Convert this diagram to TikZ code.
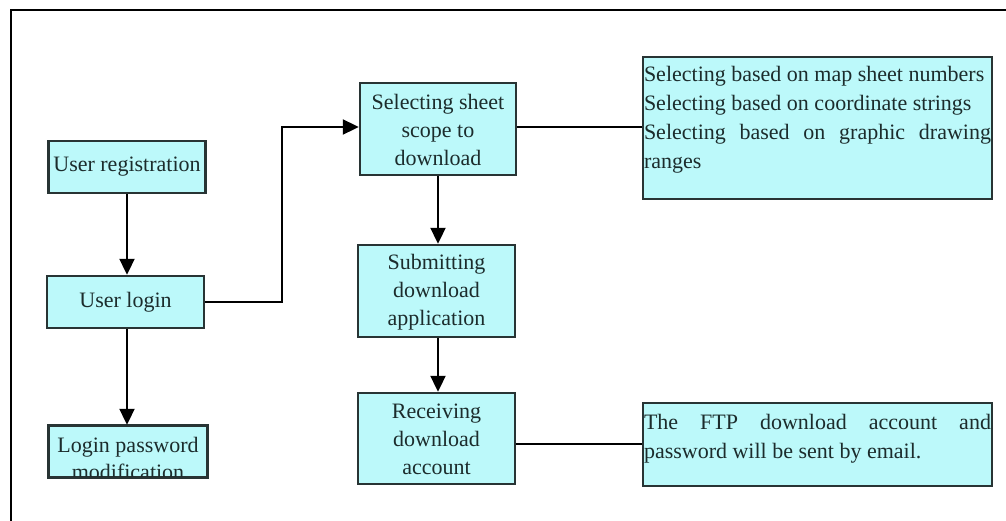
\documentclass[tikz,border=0pt]{standalone}
\usepackage{fontspec}
\setmainfont{Liberation Serif}
\usetikzlibrary{arrows.meta}

% justified notes are set without hyphenation
\hyphenpenalty=10000
\exhyphenpenalty=10000

\definecolor{boxfill}{RGB}{188,249,250}
\definecolor{boxline}{RGB}{40,52,52}
\definecolor{boxtext}{RGB}{28,44,44}

\tikzset{
  x=1pt, y=-1pt,
  box/.style={draw=boxline, line width=2.4pt, fill=boxfill, inner sep=0pt},
  label/.style={text=boxtext, font=\fontsize{22}{28}\selectfont, align=center, inner sep=0pt},
  note/.style={text=boxtext, font=\fontsize{22}{29}\selectfont,
    align=justify, inner sep=0pt, anchor=north west},
  flow/.style={draw=black, line width=2pt, -{Triangle[width=15pt,length=16pt]}},
  link/.style={draw=black, line width=2pt},
}

\begin{document}
\begin{tikzpicture}
\useasboundingbox (0,0) rectangle (1006,520);
% outer frame
\draw[line width=2pt] (11,530) -- (11,10) -- (1020,10);

% left column
\node[box, minimum width=157pt, minimum height=52pt] (ur) at (127,167) {};
\node[label] at (ur) {User registration};
\node[box, minimum width=157pt, minimum height=52pt] (ul) at (125.5,302) {};
\node[label] at (ul) {User login};
\node[box, minimum width=158pt, minimum height=51pt] (lp) at (128,451.5) {};
\begin{scope}
  \clip (lp.south west) rectangle (lp.north east);
  \node[label, font=\fontsize{22}{27}\selectfont, anchor=north] (lpt) at ([yshift=-12pt]lp.north) {Login password\\modification};
\end{scope}
\draw[draw=boxline, line width=2.4pt] (lp.south west) rectangle (lp.north east);

% centre column
\node[box, minimum width=156pt, minimum height=92pt] (ss) at (438,129) {};
\node[label] at ([yshift=-1pt]ss) {Selecting sheet\\scope to\\download};
\node[box, minimum width=157pt, minimum height=92pt] (sd) at (436.5,291) {};
\node[label] at ([yshift=-1pt]sd) {Submitting\\download\\application};
\node[box, minimum width=157pt, minimum height=91pt] (rd) at (436.5,438.5) {};
\node[label] at ([yshift=-1pt]rd) {Receiving\\download\\account};

% right column
\node[box, minimum width=349pt, minimum height=142pt] (r1) at (817.5,128) {};
\node[note, text width=347pt] (r1t) at ([xshift=2pt,yshift=-10pt]r1.north west)
  {Selecting based on map sheet numbers\\Selecting based on coordinate strings\\Selecting based on graphic drawing ranges};
\node[box, minimum width=349pt, minimum height=83pt] (r2) at (817.5,444.5) {};
\node[note, text width=347pt] (r2t) at ([xshift=2pt,yshift=-12pt]r2.north west)
  {The FTP download account and password will be sent by email.};

% connectors
\draw[flow] (ur.south) -- (ur.south |- ul.north);
\draw[flow] (ur.south |- ul.south) -- (ur.south |- lp.north);
\draw[flow] (ul.east) -- ++(77,0) |- ([yshift=2pt]ss.west);
\draw[flow] (ss.south) -- (ss.south |- sd.north);
\draw[flow] (ss.south |- sd.south) -- (ss.south |- rd.north);
\draw[link] ([yshift=2pt]ss.east) -- ([yshift=2pt]ss.east -| r1.west);
\draw[link] ([yshift=-5pt]rd.east) -- ([yshift=-5pt]rd.east -| r2.west);
\end{tikzpicture}
\end{document}
